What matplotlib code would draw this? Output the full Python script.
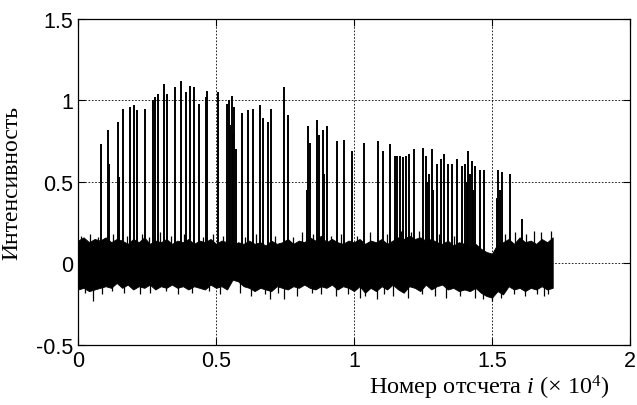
import numpy as np
import matplotlib
matplotlib.use('Agg')
import matplotlib.pyplot as plt

# ----------------------------------------------------------------------
#  Data (x in units of 10^4 samples)
# ----------------------------------------------------------------------
# noise band: max / min of the signal every 0.02 (x 10^4) from 0 to 1.72
env_step = 0.02
env_upper = [0.14, 0.16, 0.13, 0.15, 0.14, 0.16, 0.13, 0.15, 0.14, 0.12,
             0.15, 0.13, 0.16, 0.12, 0.14, 0.13, 0.15, 0.12, 0.14, 0.13,
             0.15, 0.12, 0.14, 0.13, 0.15, 0.12, 0.14, 0.13, 0.11, 0.13,
             0.12, 0.14, 0.12, 0.13, 0.11, 0.14, 0.12, 0.13, 0.15, 0.12,
             0.14, 0.13, 0.16, 0.14, 0.17, 0.13, 0.15, 0.13, 0.12, 0.14,
             0.13, 0.15, 0.12, 0.14, 0.13, 0.15, 0.12, 0.14, 0.16, 0.15,
             0.17, 0.15, 0.16, 0.14, 0.15, 0.13, 0.12, 0.14, 0.11, 0.13,
             0.12, 0.10, 0.12, 0.09, 0.07, 0.06, 0.12, 0.13, 0.15, 0.12,
             0.16, 0.13, 0.14, 0.12, 0.15, 0.13, 0.16]
env_lower = [-0.16, -0.15, -0.17, -0.16, -0.15, -0.14, -0.15, -0.12, -0.15, -0.13,
             -0.16, -0.14, -0.15, -0.13, -0.16, -0.14, -0.15, -0.13, -0.15, -0.14,
             -0.16, -0.14, -0.15, -0.16, -0.13, -0.15, -0.14, -0.16, -0.10, -0.11,
             -0.14, -0.15, -0.17, -0.15, -0.16, -0.17, -0.14, -0.15, -0.16, -0.14,
             -0.15, -0.13, -0.15, -0.16, -0.14, -0.15, -0.13, -0.16, -0.14, -0.15,
             -0.17, -0.14, -0.18, -0.15, -0.17, -0.14, -0.16, -0.13, -0.16, -0.18,
             -0.14, -0.15, -0.17, -0.13, -0.16, -0.14, -0.13, -0.16, -0.15, -0.17,
             -0.16, -0.17, -0.15, -0.18, -0.20, -0.21, -0.17, -0.19, -0.14, -0.16,
             -0.15, -0.17, -0.15, -0.16, -0.14, -0.16, -0.15]

# short noise peaks sticking out of the band (ragged edges)
peak_up_x = [0.012, 0.045, 0.071, 0.128, 0.176, 0.232, 0.258, 0.298, 0.336, 0.384,
             0.452, 0.489, 0.527, 0.604, 0.646, 0.712, 0.778, 0.812, 0.852, 0.918,
             0.952, 1.012, 1.058, 1.118, 1.172, 1.208, 1.236, 1.309, 1.362, 1.546,
             1.582, 1.624, 1.652, 1.676, 1.714]
peak_up_y = [0.17, 0.18, 0.16, 0.18, 0.17, 0.18, 0.16, 0.19, 0.17, 0.18,
             0.16, 0.18, 0.17, 0.16, 0.18, 0.17, 0.16, 0.19, 0.18, 0.17,
             0.18, 0.17, 0.19, 0.18, 0.20, 0.19, 0.20, 0.18, 0.17, 0.18,
             0.19, 0.18, 0.20, 0.19, 0.20]
peak_dn_x = [0.024, 0.086, 0.122, 0.168, 0.224, 0.262, 0.318, 0.362, 0.412, 0.476,
             0.514, 0.586, 0.628, 0.676, 0.724, 0.792, 0.848, 0.882, 0.934, 0.978,
             1.022, 1.108, 1.142, 1.196, 1.248, 1.292, 1.332, 1.384, 1.468, 1.532,
             1.578, 1.618, 1.664, 1.688]
peak_dn_y = [-0.18, -0.19, -0.17, -0.18, -0.19, -0.18, -0.17, -0.19, -0.18, -0.17,
             -0.19, -0.18, -0.20, -0.19, -0.18, -0.20, -0.18, -0.19, -0.20, -0.19,
             -0.21, -0.19, -0.20, -0.21, -0.19, -0.20, -0.21, -0.20, -0.22, -0.21,
             -0.19, -0.20, -0.19, -0.20]

# deeper single dips below the band
dip_x = [0.054, 0.696, 0.746, 1.040, 1.083, 1.438, 1.500, 1.703]
dip_y = [-0.23, -0.22, -0.22, -0.20, -0.22, -0.21, -0.23, -0.19]

# spikes: position and peak value
spike_x = [0.083, 0.110, 0.113, 0.146, 0.150, 0.164, 0.188, 0.203, 0.215, 0.243,
           0.273, 0.279, 0.291, 0.312, 0.324, 0.351, 0.372, 0.391, 0.406, 0.421,
           0.439, 0.464, 0.468, 0.508, 0.539, 0.548, 0.552, 0.557, 0.561, 0.566,
           0.571, 0.595, 0.617, 0.633, 0.659, 0.669, 0.690, 0.699, 0.746, 0.762,
           0.830, 0.834, 0.841, 0.865, 0.874, 0.889, 0.893, 0.901, 0.937, 0.964,
           0.994, 1.036, 1.088, 1.106, 1.130, 1.149, 1.157, 1.167, 1.179, 1.188,
           1.199, 1.218, 1.249, 1.261, 1.266, 1.272, 1.282, 1.288, 1.299, 1.314,
           1.326, 1.339, 1.354, 1.374, 1.390, 1.402, 1.408, 1.414, 1.420, 1.426,
           1.432, 1.438, 1.457, 1.471, 1.519, 1.523, 1.528, 1.535, 1.565, 1.608]
spike_y = [0.73, 0.82, 0.61, 0.865, 0.53, 0.95, 0.96, 0.97, 0.94, 0.95,
           1.00, 1.02, 1.04, 1.10, 1.04, 1.08, 1.12, 1.05, 1.09, 1.08,
           0.98, 1.02, 1.06, 1.05, 0.98, 1.00, 0.85, 1.03, 0.80, 0.96,
           0.70, 0.92, 0.94, 0.95, 0.97, 0.89, 0.87, 0.95, 1.08, 0.91,
           0.45, 0.84, 0.74, 0.88, 0.79, 0.82, 0.55, 0.84, 0.75, 0.76,
           0.69, 0.74, 0.75, 0.69, 0.73, 0.66, 0.66, 0.66, 0.65, 0.66,
           0.67, 0.70, 0.71, 0.66, 0.50, 0.55, 0.70, 0.45, 0.61, 0.64,
           0.67, 0.61, 0.61, 0.64, 0.60, 0.61, 0.50, 0.69, 0.55, 0.63,
           0.45, 0.60, 0.57, 0.57, 0.40, 0.57, 0.45, 0.56, 0.55, 0.27]

x_ticks = [0, 0.5, 1, 1.5, 2]
y_ticks = [-0.5, 0, 0.5, 1, 1.5]
x_label = 'Номер отсчета $\\mathit{i}$ (× 10$^4$)'
y_label = 'Интенсивность'

# ----------------------------------------------------------------------
#  Plot
# ----------------------------------------------------------------------
plt.rcParams['font.family'] = ['Liberation Sans', 'DejaVu Sans']
plt.rcParams['mathtext.fontset'] = 'custom'
plt.rcParams['mathtext.rm'] = 'Liberation Serif'
plt.rcParams['mathtext.it'] = 'Liberation Serif:italic'

fig = plt.figure(figsize=(6.37, 4.06), dpi=100)
ax = fig.add_axes([0.1225, 0.148, 0.8665, 0.803])

env_x = np.arange(len(env_upper)) * env_step
ax.fill_between(env_x, env_lower, env_upper, color='k', lw=0.6)
ax.vlines(peak_up_x, 0, peak_up_y, color='k', lw=0.9)
ax.vlines(peak_dn_x, 0, peak_dn_y, color='k', lw=0.9)
ax.vlines(dip_x, 0, dip_y, color='k', lw=0.9)
ax.vlines(spike_x, 0, spike_y, color='k', lw=1.4)

ax.set_xlim(0, 2)
ax.set_ylim(-0.5, 1.5)
ax.set_xticks(x_ticks)
ax.set_xticklabels(['0', '0.5', '1', '1.5', '2'])
ax.set_yticks(y_ticks)
ax.set_yticklabels(['-0.5', '0', '0.5', '1', '1.5'])
ax.tick_params(direction='in', top=True, right=True, labelsize=15.5, length=5, width=0.8)
ax.grid(True, color='k', linestyle=(0, (2, 2)), linewidth=0.6)
for s in ax.spines.values():
    s.set_linewidth(0.9)

ax.set_xlabel(x_label, family='Liberation Serif', fontsize=17.5)
ax.xaxis.set_label_coords(0.745, -0.085)
ax.set_ylabel(y_label, family='Liberation Serif', fontsize=17)
ax.yaxis.set_label_coords(-0.10, 0.5)

plt.savefig('out.png', dpi=100)
